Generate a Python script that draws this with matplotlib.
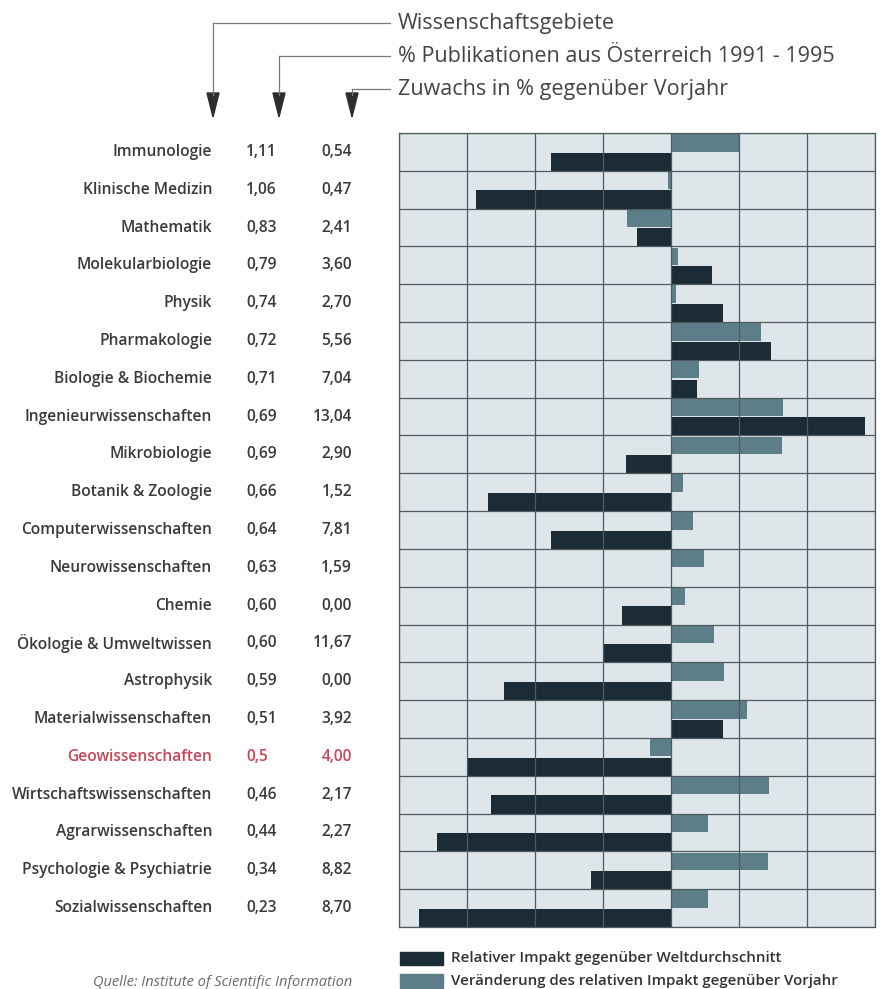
import matplotlib

matplotlib.use("Agg")
import matplotlib.pyplot as plt
from matplotlib.lines import Line2D
from matplotlib.patches import Polygon, Rectangle
from matplotlib.transforms import blended_transform_factory

# Data
categories = [
    "Immunologie", "Klinische Medizin", "Mathematik", "Molekularbiologie",
    "Physik", "Pharmakologie", "Biologie & Biochemie",
    "Ingenieurwissenschaften", "Mikrobiologie", "Botanik & Zoologie",
    "Computerwissenschaften", "Neurowissenschaften", "Chemie",
    "Ökologie & Umweltwissen", "Astrophysik", "Materialwissenschaften",
    "Geowissenschaften", "Wirtschaftswissenschaften", "Agrarwissenschaften",
    "Psychologie & Psychiatrie", "Sozialwissenschaften",
]
pub_share = ["1,11", "1,06", "0,83", "0,79", "0,74", "0,72", "0,71", "0,69",
             "0,69", "0,66", "0,64", "0,63", "0,60", "0,60", "0,59", "0,51",
             "0,5", "0,46", "0,44", "0,34", "0,23"]
growth = ["0,54", "0,47", "2,41", "3,60", "2,70", "5,56", "7,04", "13,04",
          "2,90", "1,52", "7,81", "1,59", "0,00", "11,67", "0,00", "3,92",
          "4,00", "2,17", "2,27", "8,82", "8,70"]
impact = [-1.76, -2.87, -0.50, 0.60, 0.76, 1.47, 0.38, 2.85, -0.66, -2.69,
          -1.76, 0.00, -0.72, -1.00, -2.46, 0.76, -3.00, -2.65, -3.44, -1.18,
          -3.71]
change = [1.00, -0.05, -0.65, 0.10, 0.08, 1.32, 0.41, 1.65, 1.63, 0.18, 0.32,
          0.48, 0.21, 0.63, 0.78, 1.12, -0.31, 1.44, 0.54, 1.43, 0.54]
highlight = "Geowissenschaften"

W, H = 880, 989
DARK = "#1b2c36"
LIGHT = "#5c7e89"
TEXT = "#3a3a3a"
RED = "#c9465a"


def fx(px):
    return px / W


def fy(py):
    return 1 - py / H


fig = plt.figure(figsize=(W / 100, H / 100), dpi=100)
ax = fig.add_axes([fx(399), fy(927), fx(875) - fx(399), fy(133) - fy(927)])
ax.set_facecolor("#dee6ea")

n = len(categories)
rows = list(range(n))
ax.barh([r + 0.26 for r in rows], change, height=0.46, color=LIGHT, zorder=2)
ax.barh([r + 0.76 for r in rows], impact, height=0.48, color=DARK, zorder=2)

ax.set_xlim(-4, 3)
ax.set_ylim(n, 0)
ax.set_xticks(range(-4, 4))
ax.set_yticks(range(n + 1))
ax.grid(True, color="#4f5a5e", lw=0.9, zorder=3)
ax.set_axisbelow(False)
ax.tick_params(left=False, bottom=False, labelleft=False, labelbottom=False)
for s in ax.spines.values():
    s.set_color("#4f5a5e")
    s.set_linewidth(0.9)

# left table
tr = blended_transform_factory(fig.transFigure, ax.transData)
font = ["Open Sans", "DejaVu Sans"]
for i, (cat, p, g) in enumerate(zip(categories, pub_share, growth)):
    col = RED if cat == highlight else TEXT
    y = i + 0.5
    ax.text(fx(212), y, cat, transform=tr, ha="right", va="center",
            fontsize=11.2, color=col, family=font, weight="semibold")
    ax.text(fx(246), y, p, transform=tr, ha="left", va="center",
            fontsize=11.2, color=col, family=font, weight="semibold")
    ax.text(fx(352), y, g, transform=tr, ha="right", va="center",
            fontsize=11.2, color=col, family=font, weight="semibold")

# header with leader lines and arrowheads
headers = ["Wissenschaftsgebiete",
           "% Publikationen aus Österreich 1991 - 1995",
           "Zuwachs in % gegenüber Vorjahr"]
arrow_x = [213, 279, 352]
head_y = [23, 56, 89]
for hx, hy, label in zip(arrow_x, head_y, headers):
    fig.add_artist(Line2D([fx(hx), fx(390)], [fy(hy), fy(hy)],
                          transform=fig.transFigure, color="#7a7a7a", lw=0.9))
    fig.add_artist(Line2D([fx(hx), fx(hx)], [fy(hy), fy(95)],
                          transform=fig.transFigure, color="#7a7a7a", lw=0.9))
    fig.add_artist(Polygon([[fx(hx - 6), fy(93)], [fx(hx + 6), fy(93)],
                            [fx(hx), fy(117)]], closed=True,
                           transform=fig.transFigure, color="#2e2e2e"))
    fig.text(fx(398), fy(hy), label, ha="left", va="center", fontsize=15.5,
             color="#444444", family=font)

# legend
legend_items = [("Relativer Impakt gegenüber Weltdurchschnitt", DARK),
                ("Veränderung des relativen Impakt gegenüber Vorjahr", LIGHT)]
for (label, c), ly in zip(legend_items, [958, 981]):
    fig.add_artist(Rectangle((fx(400), fy(ly + 6.5)), fx(443) - fx(400),
                             fy(ly - 6.5) - fy(ly + 6.5),
                             transform=fig.transFigure, color=c))
    fig.text(fx(451), fy(ly), label, ha="left", va="center", fontsize=10.8,
             color="#333333", family=font, weight="semibold")

fig.text(fx(352), fy(983), "Quelle: Institute of Scientific Information",
         ha="right", va="center", fontsize=10.5, style="italic",
         color="#6a6a6a", family=font)

fig.savefig("out.png", dpi=100, facecolor="white")
